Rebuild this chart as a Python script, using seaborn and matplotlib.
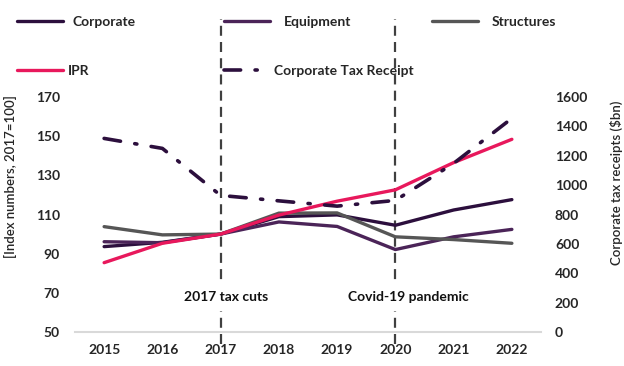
import pandas as pd
import matplotlib
matplotlib.use("Agg")
import matplotlib.pyplot as plt
import seaborn as sns

# Chart values
years = [2015, 2016, 2017, 2018, 2019, 2020, 2021, 2022]
corporate = [93.6, 95.8, 100, 108.9, 109.8, 104.5, 112.3, 117.6]
equipment = [96.1, 95.6, 100, 106.2, 103.9, 92.1, 98.6, 102.4]
structures = [103.8, 99.6, 100, 110.7, 110.8, 98.6, 97.2, 95.3]
ipr = [85.4, 95.3, 100, 109.7, 116.8, 122.6, 136.5, 148.4]
tax_receipts = [1318, 1250, 930, 893, 857, 896, 1148, 1455]

series_names = ["Corporate", "Equipment", "Structures", "IPR"]
colors = {"Corporate": "#2c0f3d", "Equipment": "#4b2458",
          "Structures": "#565656", "IPR": "#e8185c"}
tax_color = "#2c0f3d"

left_ticks = [50, 70, 90, 110, 130, 150, 170]
right_ticks = [0, 200, 400, 600, 800, 1000, 1200, 1400, 1600]
events = [(2017, "2017 tax cuts"), (2020, "Covid-19 pandemic")]

df = pd.DataFrame({
    "year": years * 4,
    "value": corporate + equipment + structures + ipr,
    "series": sum([[n] * len(years) for n in series_names], []),
})

sns.set_style("white")
plt.rcParams["font.family"] = ["Lato", "DejaVu Sans"]

fig = plt.figure(figsize=(6.24, 3.66), dpi=100)
ax = fig.add_axes([75 / 624, 34 / 366, 466 / 624, 235 / 366])
ax2 = ax.twinx()

sns.lineplot(data=df, x="year", y="value", hue="series", hue_order=series_names,
             palette=colors, linewidth=2.4, legend=False, ax=ax)
for ln in ax.lines:
    ln.set_solid_capstyle("round")

sns.lineplot(x=years, y=tax_receipts, color=tax_color, linewidth=2.6, ax=ax2)
tax_line = ax2.lines[-1]
tax_line.set_dashes((4.6, 4.0, 0.6, 4.0))
tax_line.set_dash_capstyle("round")

# vertical event markers
for yr, label in events:
    ax.axvline(yr, ymin=-0.05, ymax=1.33, color="#404040", lw=1.6,
               dashes=(4.5, 2.8), clip_on=False, zorder=0.5)
    ax.text(yr + (0.1 if yr == 2017 else 0.22), 68, label, ha="center", va="center",
            fontsize=10, fontweight="bold", color="#111111",
            bbox=dict(facecolor="white", edgecolor="none", pad=6), zorder=3)

ax.set_xlim(2014.5, 2022.5)
ax.set_ylim(50, 170)
ax2.set_ylim(0, 1600)
ax.set_xticks(years)
ax.set_yticks(left_ticks)
ax2.set_yticks(right_ticks)

for a in (ax, ax2):
    for s in a.spines.values():
        s.set_visible(False)
ax.spines["bottom"].set_visible(True)
ax.spines["bottom"].set_color("#d9d9d9")
ax.spines["bottom"].set_linewidth(1.5)

ax.tick_params(axis="x", length=0, pad=9, labelsize=10)
ax.tick_params(axis="y", length=0, pad=11, labelsize=10)
ax2.tick_params(axis="y", length=0, pad=10, labelsize=10)
for t in ax.get_xticklabels() + ax.get_yticklabels() + ax2.get_yticklabels():
    t.set_fontweight("bold")

ax.set_xlabel("")
ax.set_ylabel("[Index numbers, 2017=100]", fontsize=9.5, fontweight="semibold")
ax.yaxis.set_label_coords(-0.125, 0.66)
ax2.set_ylabel("Corporate tax receipts ($bn)", fontsize=9.5, fontweight="semibold")
ax2.yaxis.set_label_coords(1.148, 0.634)

# legend laid out as in the source (3 columns x 2 rows)
handles = dict(zip(series_names, ax.lines[:4]))
handles["Corporate Tax Receipt"] = tax_line
legend_spots = [
    ("Corporate", 17, 21.7, 0.7),
    ("Equipment", 224, 21.7, 1.0),
    ("Structures", 432, 21.7, 1.0),
    ("IPR", 17, 70.7, 0.35),
    ("Corporate Tax Receipt", 224, 70.7, 0.3),
]
for name, px, py, pad in legend_spots:
    fig.legend(handles=[handles[name]], labels=[name], loc="center left",
               bbox_to_anchor=(px / 624, 1 - py / 366), frameon=False,
               borderpad=0, borderaxespad=0, handlelength=3.3,
               handletextpad=pad, prop={"weight": "bold", "size": 10})

fig.savefig("out.png", dpi=100)
